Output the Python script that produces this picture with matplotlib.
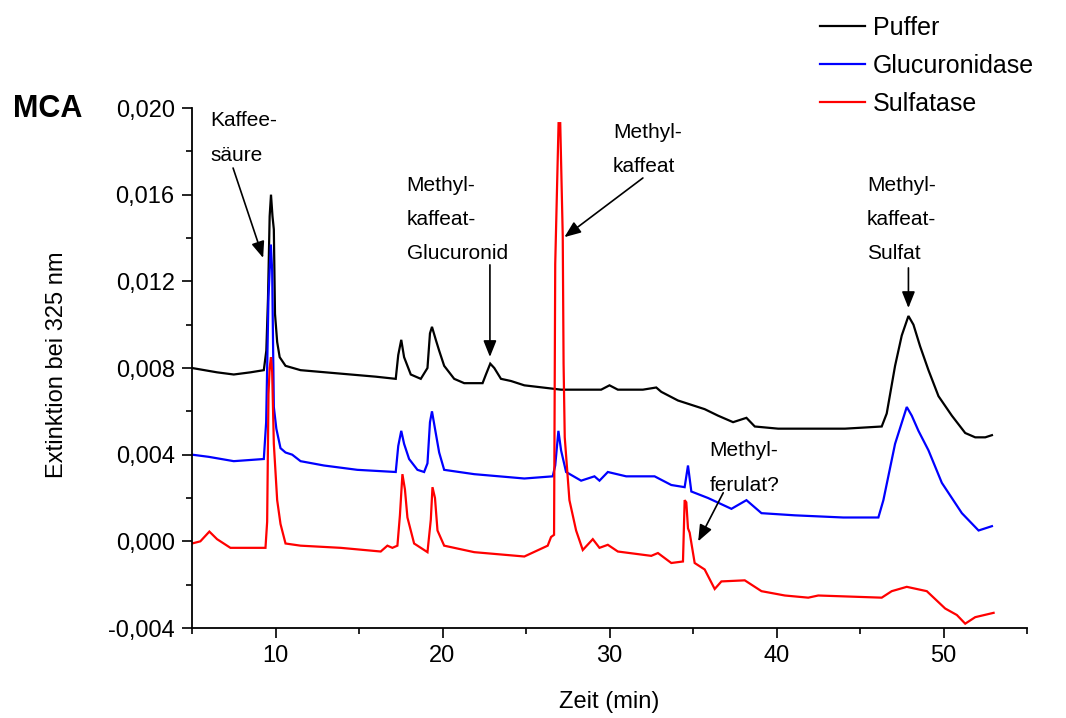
import matplotlib
matplotlib.use("Agg")
import matplotlib.pyplot as plt
from matplotlib.ticker import FixedLocator

plt.rcParams["font.family"] = ["Liberation Sans", "DejaVu Sans"]

# Retention time (min) and extinction at 325 nm for the three incubations
puffer_t = [5.0, 6.5, 7.5, 8.5, 9.3, 9.45, 9.55, 9.65, 9.73, 9.82, 9.9, 9.97, 10.1,
            10.25, 10.6, 11.5, 13.0, 14.5, 16.0, 17.2, 17.35, 17.53, 17.7, 18.1,
            18.7, 19.1, 19.25, 19.37, 19.6, 19.8, 20.1, 20.7, 21.3, 22.4, 22.6,
            22.86, 23.1, 23.5, 24.1, 24.9, 26.0, 27.1, 28.5, 29.5, 30.0, 30.5,
            31.1, 32.0, 32.8, 33.1, 34.1, 35.7, 36.5, 37.4, 38.2, 38.7, 40.1,
            42.0, 44.1, 46.3, 46.6, 47.1, 47.5, 47.9, 48.2, 48.6, 49.1, 49.7,
            50.5, 51.3, 51.9, 52.5, 52.9]
puffer_v = [0.0080, 0.0078, 0.0077, 0.0078, 0.0079, 0.0088, 0.0112, 0.0150, 0.0160,
            0.0150, 0.0144, 0.0105, 0.0092, 0.0085, 0.0081, 0.0079, 0.0078, 0.0077,
            0.0076, 0.0075, 0.0086, 0.0093, 0.0085, 0.0077, 0.0075, 0.0080, 0.0096,
            0.0099, 0.0093, 0.0088, 0.0081, 0.0075, 0.0073, 0.0073, 0.0077, 0.0082,
            0.0080, 0.0075, 0.0074, 0.0072, 0.0071, 0.0070, 0.0070, 0.0070, 0.0072,
            0.0070, 0.0070, 0.0070, 0.0071, 0.0069, 0.0065, 0.0061, 0.0058, 0.0055,
            0.0057, 0.0053, 0.0052, 0.0052, 0.0052, 0.0053, 0.0059, 0.0081, 0.0095,
            0.0104, 0.0100, 0.0090, 0.0079, 0.0067, 0.0058, 0.0050, 0.0048, 0.0048,
            0.0049]

glucuronidase_t = [5.0, 6.0, 7.5, 9.3, 9.44, 9.58, 9.72, 9.8, 9.9, 10.05, 10.3, 10.6,
                   11.0, 11.5, 12.9, 14.9, 17.2, 17.35, 17.53, 17.7, 18.0, 18.5, 18.9,
                   19.1, 19.25, 19.37, 19.55, 19.8, 20.1, 21.9, 24.9, 26.6, 26.75,
                   26.94, 27.1, 27.4, 28.3, 29.1, 29.4, 29.9, 31.0, 32.7, 33.7, 34.5,
                   34.7, 34.9, 35.9, 37.3, 38.2, 39.1, 41.1, 44.0, 46.1, 46.4, 47.1,
                   47.8, 48.1, 48.5, 49.1, 49.9, 51.1, 52.1, 52.9]
glucuronidase_v = [0.0040, 0.0039, 0.0037, 0.0038, 0.0055, 0.0113, 0.0137, 0.0125,
                   0.0062, 0.0052, 0.0043, 0.0041, 0.0040, 0.0037, 0.0035, 0.0033,
                   0.0032, 0.0044, 0.0051, 0.0045, 0.0038, 0.0033, 0.0032, 0.0036,
                   0.0055, 0.0060, 0.0052, 0.0041, 0.0033, 0.0031, 0.0029, 0.0030,
                   0.0035, 0.0051, 0.0042, 0.0032, 0.0028, 0.0030, 0.0028, 0.0032,
                   0.0030, 0.0030, 0.0026, 0.0025, 0.0035, 0.0023, 0.0020, 0.0015,
                   0.0019, 0.0013, 0.0012, 0.0011, 0.0011, 0.0019, 0.0045, 0.0062,
                   0.0058, 0.0051, 0.0042, 0.0027, 0.0013, 0.0005, 0.0007]

sulfatase_t = [5.0, 5.5, 6.04, 6.5, 7.3, 8.5, 9.4, 9.5, 9.58, 9.65, 9.73, 9.8, 9.9,
               10.1, 10.3, 10.6, 11.5, 13.9, 16.3, 16.7, 17.0, 17.3, 17.45, 17.6,
               17.75, 17.9, 18.3, 19.1, 19.3, 19.4, 19.55, 19.7, 20.1, 21.9, 24.9,
               26.3, 26.5, 26.68, 26.75, 26.95, 27.05, 27.2, 27.25, 27.32, 27.6,
               28.0, 28.4, 29.0, 29.4, 29.9, 30.5, 32.5, 32.9, 33.7, 34.4, 34.5,
               34.6, 34.7, 34.8, 35.1, 35.7, 36.3, 36.7, 38.1, 39.1, 40.5, 41.9,
               42.5, 46.3, 46.9, 47.8, 49.0, 50.1, 50.8, 51.3, 51.9, 53.0]
sulfatase_v = [-0.0001, 0.0000, 0.00045, 0.0001, -0.0003, -0.0003, -0.0003, 0.0009,
               0.0068, 0.0080, 0.0085, 0.0078, 0.0045, 0.0019, 0.0008, -0.0001,
               -0.0002, -0.0003, -0.00047, -0.0002, -0.0003, -0.0002, 0.0012,
               0.0031, 0.0024, 0.0011, -0.0001, -0.0005, 0.0010, 0.0025, 0.0020,
               0.0005, -0.0002, -0.0005, -0.0007, -0.0002, 0.0002, 0.0003, 0.0128,
               0.0193, 0.0193, 0.0141, 0.0082, 0.0048, 0.0019, 0.0005, -0.0004,
               0.0001, -0.0003, -0.00016, -0.00047, -0.00067, -0.00054, -0.0010,
               -0.00093, 0.0019, 0.0018, 0.0006, 0.0004, -0.0010, -0.0013, -0.0022,
               -0.00185, -0.0018, -0.0023, -0.0025, -0.0026, -0.0025, -0.0026,
               -0.0023, -0.0021, -0.0023, -0.0031, -0.0034, -0.0038, -0.0035,
               -0.0033]

series_names = ["Puffer", "Glucuronidase", "Sulfatase"]
series_colors = ["black", "#0000ff", "#ff0000"]

x_major = [10, 20, 30, 40, 50]
x_major_labels = ["10", "20", "30", "40", "50"]
x_minor = [5, 15, 25, 35, 45, 55]
y_major = [-0.004, 0.000, 0.004, 0.008, 0.012, 0.016, 0.020]
y_major_labels = ["-0,004", "0,000", "0,004", "0,008", "0,012", "0,016", "0,020"]
y_minor = [-0.002, 0.002, 0.006, 0.010, 0.014, 0.018]

# Peak labels: text, top-left corner of the text (min, AU), arrow tail, arrow tip
peak_labels = ["Kaffee-\nsäure", "Methyl-\nkaffeat-\nGlucuronid", "Methyl-\nkaffeat",
               "Methyl-\nkaffeat-\nSulfat", "Methyl-\nferulat?"]
label_pos = [(6.08, 0.01985), (17.85, 0.01688), (30.2, 0.01930),
             (45.42, 0.01688), (36.0, 0.00462)]
arrow_tail = [(7.46, 0.01723), (22.84, 0.01276), (32.0, 0.01677),
              (47.9, 0.01262), (36.81, 0.00224)]
arrow_tip = [(9.26, 0.01308), (22.84, 0.00851), (27.3, 0.01404),
             (47.9, 0.01077), (35.31, 0.0000)]

fig = plt.figure(figsize=(10.66, 7.18), dpi=100)
ax = fig.add_axes([192 / 1066, 1 - 628 / 718, 835 / 1066, 520 / 718])

traces = [(puffer_t, puffer_v), (glucuronidase_t, glucuronidase_v),
          (sulfatase_t, sulfatase_v)]
handles = []
for (t, v), name, col in zip(traces, series_names, series_colors):
    h, = ax.plot(t, v, color=col, lw=1.6, label=name, solid_joinstyle="miter")
    handles.append(h)

ax.set_xlim(5, 55)
ax.set_ylim(-0.004, 0.020)

for side in ("top", "right"):
    ax.spines[side].set_visible(False)
for side in ("left", "bottom"):
    ax.spines[side].set_linewidth(1.3)

ax.xaxis.set_major_locator(FixedLocator(x_major))
ax.set_xticklabels(x_major_labels)
ax.xaxis.set_minor_locator(FixedLocator(x_minor))
ax.yaxis.set_major_locator(FixedLocator(y_major))
ax.set_yticklabels(y_major_labels)
ax.yaxis.set_minor_locator(FixedLocator(y_minor))
ax.tick_params(which="major", direction="out", length=7.5, width=1.2,
               labelsize=17, pad=5)
ax.tick_params(which="minor", direction="out", length=4, width=1.2)

ax.set_xlabel("Zeit (min)", fontsize=17)
ax.set_ylabel("Extinktion bei 325 nm", fontsize=17)
ax.xaxis.set_label_coords(0.5, -0.122)
ax.yaxis.set_label_coords(-0.148, 0.506)

for txt, pos, tail, tip in zip(peak_labels, label_pos, arrow_tail, arrow_tip):
    ax.text(pos[0], pos[1], txt, fontsize=15, ha="left", va="top",
            linespacing=2.02)
    ax.annotate("", xy=tip, xytext=tail,
                arrowprops=dict(arrowstyle="-|>,head_length=0.55,head_width=0.22",
                                mutation_scale=18, color="black", lw=1.2,
                                shrinkA=0, shrinkB=0))

fig.text(13 / 1066, 1 - 117 / 718, "MCA", fontsize=22, fontweight="bold",
         ha="left", va="baseline")

fig.legend(handles=handles, labels=series_names, loc="upper left",
           bbox_to_anchor=(820 / 1066, 1 - 16 / 718), frameon=False,
           fontsize=18, handlelength=1.8, handletextpad=0.32,
           labelspacing=0.56, borderpad=0, borderaxespad=0)

fig.savefig("out.png", dpi=100)
